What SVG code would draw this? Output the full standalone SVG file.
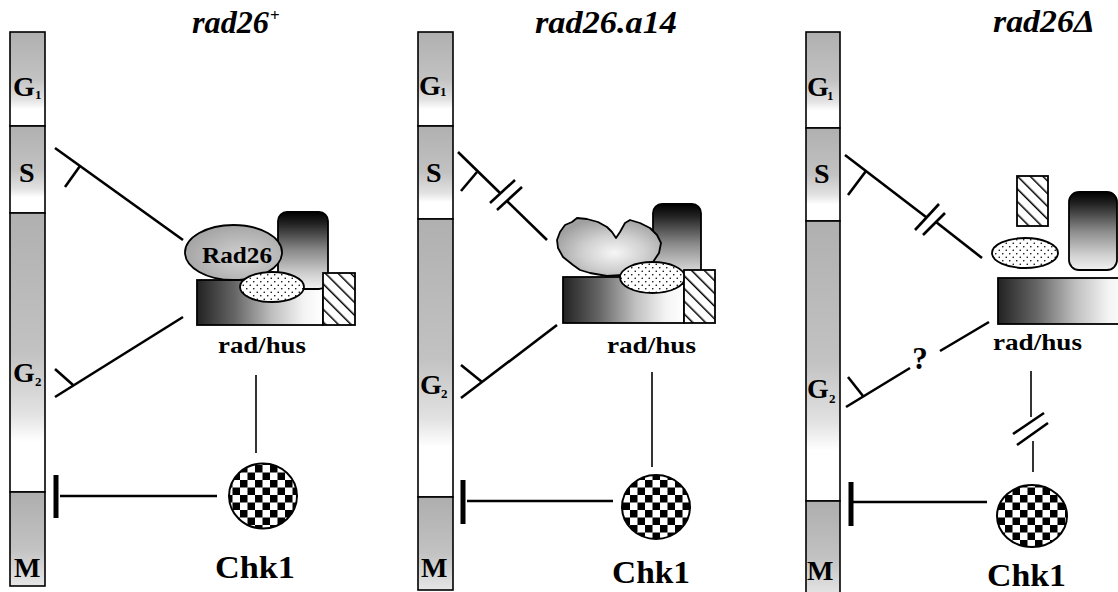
<svg xmlns="http://www.w3.org/2000/svg" width="1118" height="592" viewBox="0 0 1118 592">
<style>
  .seg{fill:url(#segGrad);stroke:#000;stroke-width:1.6}
  .segM{fill:url(#segMGrad);stroke:#000;stroke-width:1.6}
  .lbl{font-family:"Liberation Serif","Times New Roman",serif;font-weight:bold;font-size:28px;fill:#000}
  .sub{font-family:"Liberation Serif","Times New Roman",serif;font-weight:bold;font-size:13px;fill:#000}
  .title{font-family:"Liberation Serif","Times New Roman",serif;font-weight:bold;font-style:italic;font-size:31px;fill:#000}
  .sup{font-family:"Liberation Serif","Times New Roman",serif;font-weight:bold;font-size:17px;fill:#000}
  .rh{font-family:"Liberation Serif","Times New Roman",serif;font-weight:bold;font-size:23px;fill:#000}
  .chk{font-family:"Liberation Serif","Times New Roman",serif;font-weight:bold;font-size:31px;fill:#000}
  .inh{stroke:#000;stroke-width:2.6;fill:none;stroke-linecap:butt}
  .thin{stroke:#000;stroke-width:1.6;fill:none}
  .tbar{stroke:#000;stroke-width:5;fill:none}
  .shape{stroke:#000;stroke-width:1.8}
  .tall{fill:url(#tallGrad)}
  .base{fill:url(#baseGrad)}
  .dots{fill:url(#dots)}
  .hatch{fill:url(#hatch)}
  .chkball{fill:url(#checker);stroke:#000;stroke-width:2}
</style>
<defs>
  <linearGradient id="segGrad" x1="0" y1="0" x2="0" y2="1">
    <stop offset="0" stop-color="#b0b0b0"/>
    <stop offset="0.5" stop-color="#c2c2c2"/>
    <stop offset="0.72" stop-color="#e2e2e2"/>
    <stop offset="0.82" stop-color="#ffffff"/>
    <stop offset="1" stop-color="#ffffff"/>
  </linearGradient>
  <linearGradient id="segMGrad" x1="0" y1="0" x2="0" y2="1">
    <stop offset="0" stop-color="#aeaeae"/>
    <stop offset="0.6" stop-color="#c2c2c2"/>
    <stop offset="1" stop-color="#e6e6e6"/>
  </linearGradient>
  <linearGradient id="tallGrad" x1="0" y1="0" x2="0" y2="1">
    <stop offset="0" stop-color="#000"/>
    <stop offset="0.15" stop-color="#222"/>
    <stop offset="0.5" stop-color="#8a8a8a"/>
    <stop offset="0.8" stop-color="#cfcfcf"/>
    <stop offset="1" stop-color="#f2f2f2"/>
  </linearGradient>
  <linearGradient id="baseGrad" x1="0" y1="0" x2="1" y2="0">
    <stop offset="0" stop-color="#222"/>
    <stop offset="0.3" stop-color="#666"/>
    <stop offset="0.6" stop-color="#c0c0c0"/>
    <stop offset="0.85" stop-color="#f4f4f4"/>
    <stop offset="1" stop-color="#fff"/>
  </linearGradient>
  <radialGradient id="radGrad" cx="0.6" cy="0.6" r="0.6">
    <stop offset="0" stop-color="#d4d4d4"/>
    <stop offset="1" stop-color="#a6a6a6"/>
  </radialGradient>
  <radialGradient id="blobGrad" cx="0.55" cy="0.6" r="0.6">
    <stop offset="0" stop-color="#f6f6f6"/>
    <stop offset="0.5" stop-color="#d0d0d0"/>
    <stop offset="1" stop-color="#a0a0a0"/>
  </radialGradient>
  <pattern id="checker" patternUnits="userSpaceOnUse" width="15" height="15">
    <rect width="15" height="15" fill="#fff"/>
    <rect width="7.5" height="7.5" fill="#000"/>
    <rect x="7.5" y="7.5" width="7.5" height="7.5" fill="#000"/>
  </pattern>
  <pattern id="dots" patternUnits="userSpaceOnUse" width="7" height="7">
    <rect width="7" height="7" fill="#fff"/>
    <circle cx="1.75" cy="1.75" r="0.8" fill="#000"/>
    <circle cx="5.25" cy="5.25" r="0.8" fill="#000"/>
  </pattern>
  <pattern id="hatch" patternUnits="userSpaceOnUse" width="9" height="9" patternTransform="rotate(-45)">
    <rect width="9" height="9" fill="#fff"/>
    <rect x="0" y="0" width="1.5" height="9" fill="#000"/>
  </pattern>
</defs>
<rect width="1118" height="592" fill="#fff"/>

<!-- Panel 1 -->
<g id="p1-title">
  <text class="title" x="192" y="33" textLength="77" lengthAdjust="spacingAndGlyphs">rad26</text>
  <text class="sup" x="270" y="21">+</text>
</g>
<g id="p1-cycle">
  <rect class="seg" x="10" y="32" width="35" height="94"/>
  <rect class="seg" x="10" y="126" width="35" height="87"/>
  <rect class="seg" x="10" y="213" width="35" height="279"/>
  <rect class="segM" x="10" y="492" width="35" height="94"/>
  <text class="lbl" x="13" y="96">G</text><text class="sub" x="35" y="99">1</text>
  <text class="lbl" x="19" y="182">S</text>
  <text class="lbl" x="13" y="382">G</text><text class="sub" x="35" y="386">2</text>
  <text class="lbl" x="14" y="577">M</text>
</g>
<g id="p1-radhus">
  <rect class="shape base" x="197" y="280" width="126" height="45"/>
  <rect class="shape tall" x="278" y="212" width="50" height="77" rx="9"/>
  <ellipse class="shape" cx="233.5" cy="252.5" rx="48.5" ry="27.5" fill="url(#radGrad)"/>
  <text class="rh" x="237" y="263" text-anchor="middle" font-size="24" textLength="70" lengthAdjust="spacingAndGlyphs">Rad26</text>
  <ellipse class="shape dots" cx="272" cy="287" rx="32" ry="15"/>
  <rect class="shape hatch" x="323" y="273" width="32" height="52"/>
  <text class="rh" x="262" y="353" text-anchor="middle" textLength="88" lengthAdjust="spacingAndGlyphs">rad/hus</text>
</g>
<g id="p1-chk1">
  <ellipse class="chkball" cx="263" cy="496" rx="34" ry="32.5"/>
  <text class="chk" x="255" y="578" text-anchor="middle" textLength="80" lengthAdjust="spacingAndGlyphs">Chk1</text>
</g>

<!-- Panel 2 -->
<g id="p2-title">
  <text class="title" x="535" y="33" textLength="142" lengthAdjust="spacingAndGlyphs">rad26.a14</text>
</g>
<g id="p2-cycle">
  <rect class="seg" x="418" y="32" width="35" height="94"/>
  <rect class="seg" x="418" y="126" width="35" height="93"/>
  <rect class="seg" x="418" y="219" width="35" height="278"/>
  <rect class="segM" x="418" y="497" width="35" height="93"/>
  <text class="lbl" x="419" y="95">G</text><text class="sub" x="440" y="96">1</text>
  <text class="lbl" x="426" y="182">S</text>
  <text class="lbl" x="420" y="394">G</text><text class="sub" x="441" y="398">2</text>
  <text class="lbl" x="421" y="577">M</text>
</g>
<g id="p2-radhus">
  <rect class="shape base" x="563" y="277" width="121" height="46"/>
  <rect class="shape tall" x="653" y="204" width="48" height="80" rx="9"/>
  <path class="shape" fill="url(#blobGrad)" stroke-linejoin="round" d="M557,240 L560,232 L565,225 L572,222 L577,218 L587,219 L598,222 L607,227 L612,232 L616,238 L620,232 L625,223 L630,220 L640,223 L650,228 L657,235 L661,243 L659,253 L653,262 L640,270 L623,275 L607,276 L590,273 L580,270 L573,265 L563,257 L558,248 Z"/>
  <ellipse class="shape dots" cx="652.5" cy="277.5" rx="32.5" ry="15.5"/>
  <rect class="shape hatch" x="684" y="270" width="31" height="53"/>
  <text class="rh" x="651.5" y="353" text-anchor="middle" textLength="89" lengthAdjust="spacingAndGlyphs">rad/hus</text>
</g>
<g id="p2-chk1">
  <ellipse class="chkball" cx="656" cy="507" rx="34" ry="32"/>
  <text class="chk" x="651" y="583" text-anchor="middle" textLength="78" lengthAdjust="spacingAndGlyphs">Chk1</text>
</g>

<!-- Panel 3 -->
<g id="p3-title">
  <text class="title" x="993" y="32" textLength="102" lengthAdjust="spacingAndGlyphs">rad26Δ</text>
</g>
<g id="p3-cycle">
  <rect class="seg" x="806" y="32" width="34" height="96"/>
  <rect class="seg" x="806" y="128" width="34" height="93"/>
  <rect class="seg" x="806" y="221" width="34" height="280"/>
  <rect class="segM" x="806" y="501" width="34" height="95"/>
  <text class="lbl" x="807" y="96">G</text><text class="sub" x="827" y="100">1</text>
  <text class="lbl" x="814" y="183">S</text>
  <text class="lbl" x="807" y="398">G</text><text class="sub" x="829" y="403">2</text>
  <text class="lbl" x="807" y="580">M</text>
</g>
<g id="p3-radhus">
  <rect class="shape hatch" x="1017" y="176" width="31" height="50"/>
  <ellipse class="shape dots" cx="1025" cy="253" rx="33" ry="15"/>
  <rect class="shape tall" x="1069" y="192" width="48" height="78" rx="10"/>
  <rect class="shape base" x="998" y="278" width="130" height="46"/>
  <text class="rh" x="1037.5" y="350" text-anchor="middle" textLength="89" lengthAdjust="spacingAndGlyphs">rad/hus</text>
</g>
<g id="p3-chk1">
  <ellipse class="chkball" cx="1032" cy="516" rx="35" ry="31"/>
  <text class="chk" x="1026.5" y="586" text-anchor="middle" textLength="79" lengthAdjust="spacingAndGlyphs">Chk1</text>
</g>

<!-- Connectors -->
<g id="connectors">
  <!-- panel 1 -->
  <line class="inh" x1="55" y1="148" x2="183" y2="240"/>
  <line class="inh" x1="80" y1="166" x2="65" y2="187"/>
  <line class="inh" x1="55" y1="397" x2="183" y2="317"/>
  <line class="inh" x1="73" y1="385" x2="55" y2="369"/>
  <line class="thin" x1="256" y1="375" x2="256" y2="453"/>
  <line class="inh" x1="60" y1="496" x2="217" y2="496" stroke-width="2"/>
  <line class="tbar" x1="56" y1="475" x2="56" y2="518"/>
  <!-- panel 2 -->
  <line class="inh" x1="458" y1="152" x2="500" y2="193"/>
  <line class="inh" x1="490" y1="203" x2="515" y2="180"/>
  <line class="inh" x1="497" y1="210" x2="522" y2="187"/>
  <line class="inh" x1="507" y1="201" x2="547" y2="240"/>
  <line class="inh" x1="477" y1="172" x2="461" y2="191"/>
  <line class="inh" x1="461" y1="398" x2="557" y2="325"/>
  <line class="inh" x1="482" y1="382" x2="461" y2="365"/>
  <line class="thin" x1="652" y1="372" x2="652" y2="467"/>
  <line class="inh" x1="467" y1="501" x2="613" y2="501" stroke-width="2"/>
  <line class="tbar" x1="463" y1="480" x2="463" y2="524"/>
  <!-- panel 3 -->
  <line class="inh" x1="845" y1="155" x2="926" y2="217"/>
  <line class="inh" x1="915" y1="230" x2="939" y2="204"/>
  <line class="inh" x1="923" y1="235" x2="945" y2="213"/>
  <line class="inh" x1="936" y1="222" x2="982" y2="258"/>
  <line class="inh" x1="866" y1="171" x2="848" y2="195"/>
  <line class="inh" x1="846" y1="407" x2="910" y2="368"/>
  <line class="inh" x1="940" y1="351" x2="989" y2="322"/>
  <line class="inh" x1="863" y1="396" x2="848" y2="377"/>
  <text class="chk" x="920" y="369" text-anchor="middle" font-size="30">?</text>
  <line class="thin" x1="1031" y1="371" x2="1031" y2="417"/>
  <line class="inh" x1="1013" y1="434" x2="1044" y2="413"/>
  <line class="inh" x1="1017" y1="445" x2="1048" y2="423"/>
  <line class="thin" x1="1033" y1="441" x2="1033" y2="472"/>
  <line class="inh" x1="853" y1="502" x2="987" y2="502" stroke-width="2"/>
  <line class="tbar" x1="851" y1="482" x2="851" y2="526"/>
</g>
</svg>
